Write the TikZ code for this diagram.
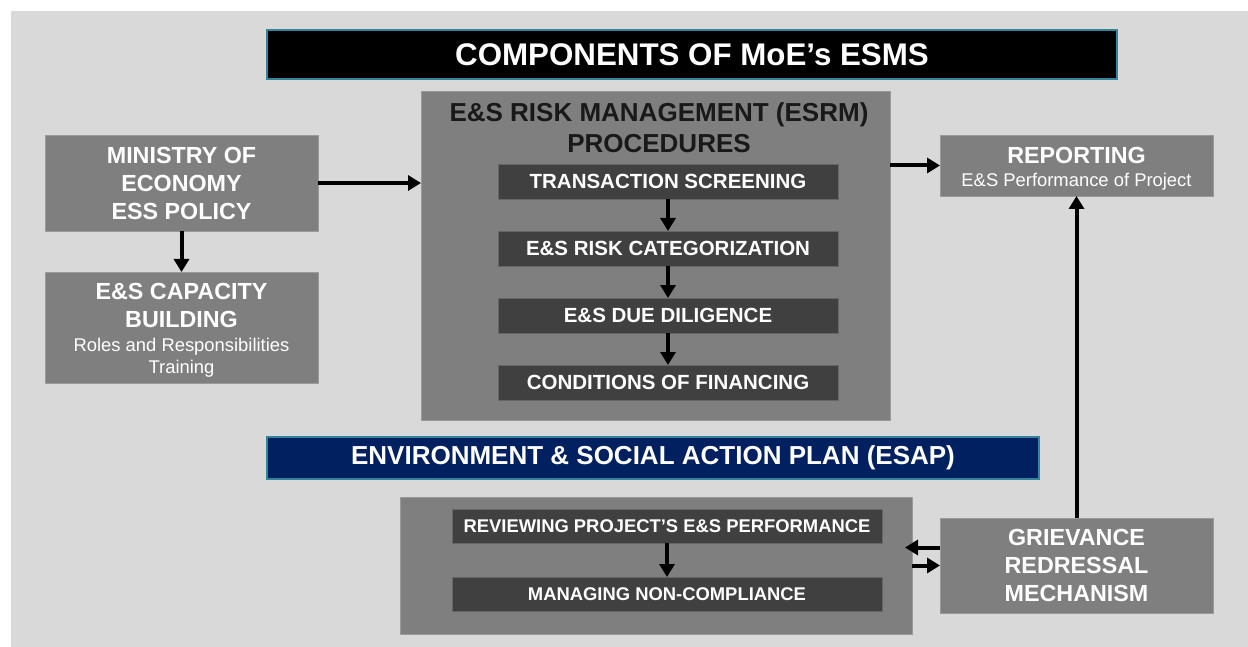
\documentclass[tikz,border=0pt]{standalone}
\usepackage{fontspec}
\setmainfont{Liberation Sans}
\usetikzlibrary{positioning, arrows.meta}

\definecolor{pagegray}{HTML}{D9D9D9}
\definecolor{boxgray}{HTML}{7F7F7F}
\definecolor{boxedge}{HTML}{9A9A9A}
\definecolor{stepdark}{HTML}{404040}
\definecolor{bannerteal}{HTML}{31849B}
\definecolor{esapnavy}{HTML}{002060}

\newcommand{\headfont}{\fontsize{23.3}{28}\selectfont\bfseries}
\newcommand{\subfont}{\fontsize{18.4}{22}\selectfont}

\tikzset{
  graybox/.style={fill=boxgray, draw=boxedge, line width=0.8pt,
    inner sep=0pt, outer sep=0pt, text=white, align=center},
  headtext/.style={inner sep=0pt, text=white, align=center, font=\headfont},
  subtext/.style={inner sep=0pt, text=white, align=center, font=\subfont},
  stepbox/.style={fill=stepdark, draw=stepdark!80!white, line width=0.6pt,
    inner sep=0pt, outer sep=0pt, text=white,
    minimum width=340pt, minimum height=35pt,
    font=\fontsize{20.5}{24}\selectfont\bfseries},
  esapstep/.style={stepbox, minimum width=430pt, minimum height=34pt,
    font=\fontsize{18.4}{22}\selectfont\bfseries},
  banner/.style={draw=bannerteal, line width=1.2pt, inner sep=0pt,
    outer sep=0pt, text=white},
  flow/.style={-{Triangle[length=13pt,width=15pt]}, line width=4pt, black},
}

\begin{document}
\begin{tikzpicture}[x=1pt, y=-1pt]
% page
\fill[white] (0,0) rectangle (1248,647);
\fill[pagegray] (11,11) rectangle (1248,647);

% banners
\node[banner, fill=black, minimum width=850pt, minimum height=49pt,
  font=\fontsize{31.3}{36}\selectfont\bfseries] (title) at (692,54.5)
  {COMPONENTS OF MoE’s ESMS};
\node[banner, fill=esapnavy, minimum width=772pt, minimum height=42pt,
  font=\fontsize{26}{30}\selectfont\bfseries] (esapbar) at (653,458)
  {ENVIRONMENT \& SOCIAL ACTION PLAN (ESAP)};

% left column
\node[graybox, minimum width=273pt, minimum height=96pt, font=\headfont]
  (mini) at (181.5,183) {MINISTRY OF\\ECONOMY\\ESS POLICY};
\node[graybox, minimum width=273pt, minimum height=111pt, below=41pt of mini] (cap) {};
\node[headtext, below=11pt of cap.north] (caphead) {E\&S CAPACITY\\BUILDING};
\node[subtext, below=10pt of caphead] (capsub) {Roles and Responsibilities\\Training};

% ESRM procedures
\node[graybox, minimum width=469pt, minimum height=329pt] (esrm) at (655.5,255.5) {};
\node[below=11.5pt of esrm.north, xshift=3.5pt, align=center, text=black!90, inner sep=0pt,
  font=\fontsize{26}{31}\selectfont\bfseries] (esrmhead)
  {E\&S RISK MANAGEMENT (ESRM)\\PROCEDURES};
\node[stepbox] (screen) at (668,181.5) {TRANSACTION SCREENING};
\node[stepbox, below=32pt of screen] (categ) {E\&S RISK CATEGORIZATION};
\node[stepbox, below=32pt of categ] (dilig) {E\&S DUE DILIGENCE};
\node[stepbox, below=32pt of dilig] (financ) {CONDITIONS OF FINANCING};

% right column
\node[graybox, minimum width=273pt, minimum height=61pt] (rep) at (1076.5,165.5) {};
\node[headtext, below=12pt of rep.north] (rephead) {REPORTING};
\node[subtext, below=9.5pt of rephead] (repsub) {E\&S Performance of Project};
\node[graybox, minimum width=273pt, minimum height=95pt, font=\headfont]
  (griev) at (1076.5,565.5) {GRIEVANCE\\REDRESSAL\\MECHANISM};

% ESAP
\node[graybox, minimum width=512pt, minimum height=137pt] (esap) at (656,565.5) {};
\node[esapstep] (review) at (667,526) {REVIEWING PROJECT’S E\&S PERFORMANCE};
\node[esapstep, below=34pt of review] (noncomp) {MANAGING NON-COMPLIANCE};

% connectors
\draw[flow] (mini) -- (cap);
\draw[flow] (mini.east) -- (mini.east -| esrm.west);
\draw[flow] (esrm.east |- rep.west) -- (rep.west);
\draw[flow] (screen) -- (categ);
\draw[flow] (categ) -- (dilig);
\draw[flow] (dilig) -- (financ);
\draw[flow] (review) -- (noncomp);
\draw[flow] (griev) -- (rep);
\draw[flow] ([yshift=18pt]griev.west) -- ([yshift=18pt,xshift=-7pt]griev.west -| esap.east);
\draw[flow] (esap.east |- griev.west) -- (griev.west);
\end{tikzpicture}
\end{document}
